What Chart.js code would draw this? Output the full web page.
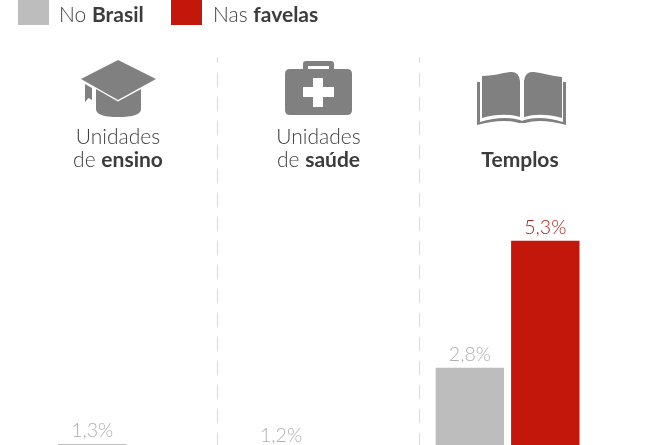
<!DOCTYPE html>
<html lang="pt-BR">
<head>
    <meta charset="UTF-8">
    <title>No Brasil e nas favelas</title>
    <script src="https://cdn.jsdelivr.net/npm/chart.js"></script>
    <style>
        html, body {
            margin: 0;
            padding: 0;
            width: 650px;
            height: 445px;
            overflow: hidden;
            background: #fff;
            font-family: Lato, sans-serif;
            color: #404040;
        }

        #wrap { position: relative; width: 650px; height: 445px; overflow: hidden; }
        canvas { position: absolute; left: 0; top: 0; }
        svg { position: absolute; left: 0; top: 0; }

        .swatch { position: absolute; top: 0; width: 31px; height: 25px; }
        .legend, .title {
            position: absolute;
            font-size: 21px;
            line-height: 23px;
            font-weight: 300;
            white-space: nowrap;
        }
        .legend { top: 2px; }
        .title { top: 124px; width: 160px; text-align: center; }
        b { font-weight: 700; color: #3c3c3c; }
    </style>
</head>
<body>
<div id="wrap">
    <canvas id="myChart" width="650" height="445"></canvas>

    <svg width="650" height="445" fill="#808080">
        <!-- dividers -->
        <line x1="217.5" y1="57" x2="217.5" y2="445" stroke="#dadada" stroke-dasharray="14 10" stroke-dashoffset="8"/>
        <line x1="419.5" y1="57" x2="419.5" y2="445" stroke="#dadada" stroke-dasharray="14 10" stroke-dashoffset="8"/>
        <!-- cap -->
        <path d="M81 79 L118 60 L156 79 L118 100 Z"/>
        <path d="M96 89 L118 101.5 L141 89 V109 Q141 117 118 117 Q96 117 96 109 Z"/>
        <path d="M85 84 L92 88 V100 L88.5 98 L85 102 Z"/>
        <!-- first aid kit -->
        <path fill-rule="evenodd" d="M303 69 V64 Q303 61 306 61 H331 Q334 61 334 64 V69 H347 Q352 69 352 74 V110 Q352 115 347 115 H290 Q285 115 285 110 V74 Q285 69 290 69 Z M308 69 H329 V66 H308 Z M313 78 V87 H303 V97 H313 V107 H323 V97 H334 V87 H323 V78 Z"/>
        <!-- book -->
        <path d="M482 76 C492 76 502 73 510 72 Q519 71 520 81 V117 Q503 112 482 118 Z"/>
        <path d="M562 77 C552 76 542 73 534 72 Q525 71 524 81 V117 Q541 112 562 118 Z"/>
        <path d="M477 82 H480 V122 Q503 115 520 120 L522 121 L524 120 Q541 115 563 122 V82 H566 V125 Q541 118 525 123 H519 Q503 118 477 125 Z"/>
    </svg>

    <div class="swatch" style="left:18px;background:#bdbdbd"></div>
    <div class="legend" style="left:59px">No <b>Brasil</b></div>
    <div class="swatch" style="left:171px;background:#c3170b"></div>
    <div class="legend" style="left:213px">Nas <b>favelas</b></div>

    <div class="title" style="left:38px">Unidades<br>de <b>ensino</b></div>
    <div class="title" style="left:238.5px">Unidades<br>de <b>saúde</b></div>
    <div class="title" style="left:440px"><br><b>Templos</b></div>
</div>

<script>
    const categories = ['Unidades de ensino', 'Unidades de saúde', 'Templos'];
    const noBrasil = [1.3, 1.2, 2.8];
    // the favela bars of the first two groups fall below the bottom of the picture
    const nasFavelas = [null, null, 5.3];

    // the picture is cropped, so the axis starts above zero
    const yMin = 1.28;
    const yMax = 10.04;

    const valueLabels = {
        id: 'valueLabels',
        afterDatasetsDraw(chart) {
            const ctx = chart.ctx;
            ctx.save();
            ctx.font = '300 19.5px Lato, sans-serif';
            ctx.textAlign = 'center';
            ctx.textBaseline = 'alphabetic';
            chart.data.datasets.forEach((ds, i) => {
                const meta = chart.getDatasetMeta(i);
                ds.data.forEach((v, j) => {
                    if (v === null) return;
                    const y = chart.scales.y.getPixelForValue(v);
                    ctx.fillStyle = ds.labelColor;
                    ctx.fillText(String(v).replace('.', ',') + '%', meta.data[j].x, y - 7);
                });
            });
            ctx.restore();
        }
    };

    new Chart(document.getElementById('myChart').getContext('2d'), {
        type: 'bar',
        data: {
            labels: categories,
            datasets: [
                { label: 'No Brasil', data: noBrasil, backgroundColor: '#bdbdbd', labelColor: '#b0b0b0' },
                { label: 'Nas favelas', data: nasFavelas, backgroundColor: '#c3170b', labelColor: '#a8231b' }
            ]
        },
        options: {
            responsive: false,
            animation: false,
            layout: { padding: { left: 35.5, right: 48, top: 0, bottom: 0 } },
            categoryPercentage: 0.799,
            barPercentage: 0.907,
            scales: {
                x: { display: false },
                y: { display: false, min: yMin, max: yMax }
            },
            plugins: {
                legend: { display: false },
                tooltip: { enabled: false }
            }
        },
        plugins: [valueLabels]
    });
</script>
</body>
</html>
